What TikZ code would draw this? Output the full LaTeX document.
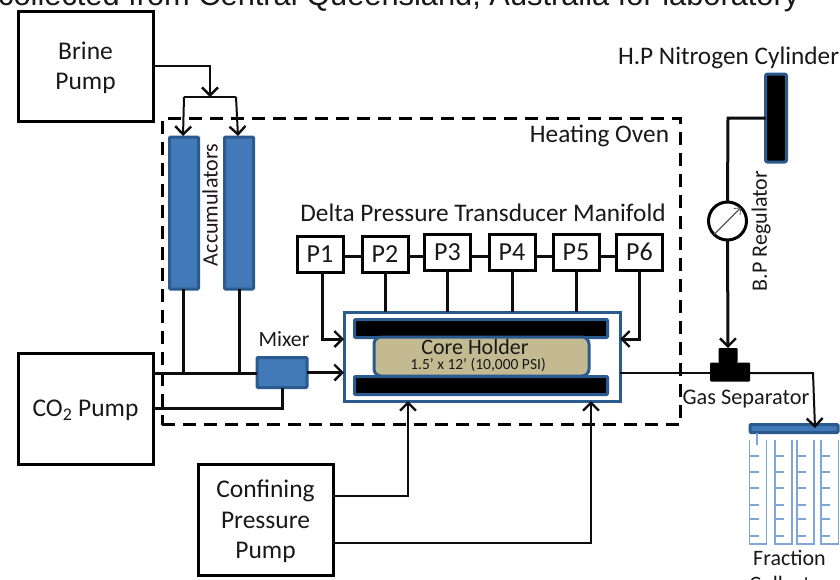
\documentclass[tikz,border=0pt]{standalone}
\usepackage{fontspec}
\setmainfont{Carlito}
\newfontfamily\arialfont{Liberation Sans}
\usetikzlibrary{arrows.meta,shapes.geometric}
\definecolor{blueF}{HTML}{4279B9}
\definecolor{blueD}{HTML}{2A5A8E}
\definecolor{tubeC}{HTML}{7FA6D6}
\definecolor{tanC}{HTML}{C3BA92}
\tikzset{
 txt/.style={inner sep=0pt,outer sep=0pt,font=\fontsize{25.3}{30}\selectfont,text=black!90},
 pumpbox/.style={draw,line width=3pt,fill=white,inner sep=0pt,outer sep=0pt},
 pumptext/.style={align=center,inner sep=0pt,outer sep=0pt,yshift=-1.8pt,font=\fontsize{25.5}{30.5}\selectfont,text=black!90},
 pbox/.style={draw,line width=3pt,fill=white,minimum width=46pt,minimum height=36pt,inner sep=0pt,outer sep=0pt,font=\fontsize{26}{30}\selectfont,text=black!90},
 bluebox/.style={draw=blueD,line width=3pt,fill=blueF,inner sep=0pt,outer sep=0pt,rounded corners=1pt},
 blackbar/.style={draw=blueD,line width=3pt,fill=black,inner sep=0pt,outer sep=0pt,rounded corners=1pt},
 pipe/.style={line width=3pt,black!95},
 thinpipe/.style={line width=2pt,black!95},
 barb/.style={-{Straight Barb[length=8pt,width=16pt,line width=2.4pt]}},
 tube/.style={draw=tubeC,line width=1.3pt},
}
\begin{document}
\begin{tikzpicture}[x=1pt,y=-1pt]
\useasboundingbox (0,0) rectangle (840,579);
\fill[white] (0,0) rectangle (840,579);
% clipped caption line
\node[anchor=base west,inner sep=0pt,font=\arialfont\fontsize{30.8}{36}\selectfont,text=black!90] (caption) at (-2,5) {collected from Central Queensland, Australia for laboratory};
% oven
\node[draw,dash pattern=on 13pt off 8pt,line width=3pt,minimum width=518pt,minimum height=306pt,inner sep=0pt,outer sep=0pt] (oven) at (421,271.5) {};
\node[txt,anchor=base east] (ovenlabel) at (669,142) {Heating Oven};
% pumps
\node[pumpbox,minimum width=135pt,minimum height=110pt,label={[pumptext]center:Brine\\Pump}] (brine) at (85.5,66) {};
\node[pumpbox,minimum width=135pt,minimum height=111pt,label={[pumptext]center:CO\textsubscript{2} Pump}] (co2) at (85.5,408.5) {};
\node[pumpbox,minimum width=135pt,minimum height=111pt,label={[pumptext]center:Confining\\Pressure\\Pump}] (conf) at (265.5,519.5) {};
% accumulators
\node[bluebox,minimum width=29pt,minimum height=152pt] (acc1) at (184,213) {};
\node[bluebox,minimum width=29pt,minimum height=152pt] (acc2) at (239,213) {};
\node[txt,rotate=90,font=\fontsize{22}{26}\selectfont] (acclabel) at (210,205) {Accumulators};
% transducers
\node[txt,anchor=base] (manlabel) at (483,221) {Delta Pressure Transducer Manifold};
\node[pbox] (p1) at (320,254) {P1};
\node[pbox] (p2) at (385,254) {P2};
\node[pbox] (p3) at (447.5,252) {P3};
\node[pbox] (p4) at (512,252) {P4};
\node[pbox] (p5) at (576,252) {P5};
\node[pbox] (p6) at (639.5,252) {P6};
\foreach \a/\b in {p1/p2,p2/p3,p3/p4,p4/p5,p5/p6}
  \draw[pipe] (\a.east |- 0,256) -- (\b.west |- 0,256);
% core holder
\node[draw=blueD,line width=3pt,fill=white,minimum width=276pt,minimum height=89pt,inner sep=0pt,outer sep=0pt] (holder) at (482,356.5) {};
\node[blackbar,minimum width=253pt,minimum height=18pt] (bartop) at (481,328.5) {};
\node[blackbar,minimum width=253pt,minimum height=18pt] (barbot) at (481,385.5) {};
\node[draw=blueD,line width=3pt,fill=tanC,rounded corners=7pt,minimum width=215pt,minimum height=39pt,inner sep=0pt,outer sep=0pt] (core) at (481.5,356.5) {};
\node[txt,anchor=base,font=\fontsize{22}{26}\selectfont] (corelabel) at (475,354.5) {Core Holder};
\node[txt,anchor=base,font=\fontsize{15.5}{18}\selectfont] (coresize) at (478,369.5) {1.5’ x 12’ (10,000 PSI)};
% mixer
\node[bluebox,minimum width=50pt,minimum height=30pt] (mixer) at (282,372.5) {};
\node[txt,font=\fontsize{21.7}{26}\selectfont] (mixlabel) at (284,339) {Mixer};
% nitrogen
\node[txt,anchor=base west] (n2label) at (618,64) {H.P Nitrogen Cylinder};
\node[blackbar,minimum width=21pt,minimum height=88pt,rounded corners=2pt] (cyl) at (776,118) {};
\node[draw,circle,line width=3pt,minimum size=38pt,inner sep=0pt,outer sep=0pt,fill=white] (reg) at (727.5,221) {};
\draw[-{Straight Barb[length=5pt,width=9pt,line width=.9pt]},line width=1.1pt,black!65] (reg.south west) -- (reg.north east);
\node[txt,rotate=90,font=\fontsize{22}{26}\selectfont] (reglabel) at (761,231) {B.P Regulator};
% separator
\node[fill=black,rounded corners=1pt,minimum width=40pt,minimum height=19pt,inner sep=0pt,outer sep=0pt] (sepbase) at (730,372) {};
\node[fill=black,rounded corners=1pt,minimum width=19pt,minimum height=15pt,inner sep=0pt,outer sep=0pt] (septop) at (728,355.5) {};
\node[txt,anchor=base,font=\fontsize{22.3}{26}\selectfont] (seplabel) at (746,404) {Gas Separator};
% fraction collector
\node[blackbar,fill=blueF,minimum width=88pt,minimum height=8pt] (coll) at (794,428.5) {};
\foreach \l/\r in {749.5/766.5,775/792,797/814,821/838.5}{
  \draw[tube] (\l,440) -- (\l,544) -- (\r,544) -- (\r,440);
  \foreach \yy in {456,472,488,505,519,536}
    \draw[tube] (\l,\yy) -- ++(9,0);
}
\coordinate (stub) at (757,445);
\draw[tube] (coll.south -| stub) -- (stub);
\node[txt,anchor=base,font=\fontsize{22}{26}\selectfont] (fraclabel) at (789.5,565) {Fraction};
\node[txt,anchor=base,font=\fontsize{22}{26}\selectfont] (coltext) at (789.5,591) {Collector};
% connectors
\coordinate (split) at (210,97);
\coordinate (splitL) at (184,97);
\coordinate (splitR) at (236,97);
\draw[thinpipe,barb] (brine.east |- 0,66) -| (split);
\draw[thinpipe] (splitL) -- (splitR);
\draw[thinpipe,barb] (splitL) -- (183,136);
\draw[thinpipe,barb] (splitR) -- (238,136);
\coordinate (co2out) at (153,373);
\draw[pipe] (co2out) -- (mixer.west |- co2out);
\draw[pipe] (acc1.south) ++(-1,0) -- (183,373);
\draw[pipe] (acc2.south) -- (239,373);
\draw[pipe,barb] (mixer.east) -- (holder.west |- mixer.east);
\draw[pipe] (co2.east) -- (mixer.south |- co2.east) -- (mixer.south);
\draw[pipe,barb] (322,272) -- (322,339) -- (holder.west |- 0,339);
\draw[pipe] (p2.south) -- (holder.north -| p2.south);
\draw[pipe] (p3.south) -- (holder.north -| p3.south);
\draw[pipe] (p4.south) -- (holder.north -| p4.south);
\draw[pipe] (p5.south) -- (holder.north -| p5.south);
\draw[pipe,barb] (p6.south) -- (p6.south |- 0,339) -- (holder.east |- 0,339);
\draw[thinpipe,barb] (conf.east |- 0,496) -| (408,401);
\draw[thinpipe,barb] (conf.east |- 0,543) -| (591,401);
\draw[thinpipe] (holder.east |- 0,373) -- (sepbase.west |- 0,373);
\draw[thinpipe,barb] (sepbase.east |- 0,373) -- (813,373) -- (815,428);
\draw[pipe] (cyl.west |- 0,118) -- (728,118) -- (reg.north);
\draw[pipe,barb] (reg.south) -- (septop.north);
\end{tikzpicture}
\end{document}
